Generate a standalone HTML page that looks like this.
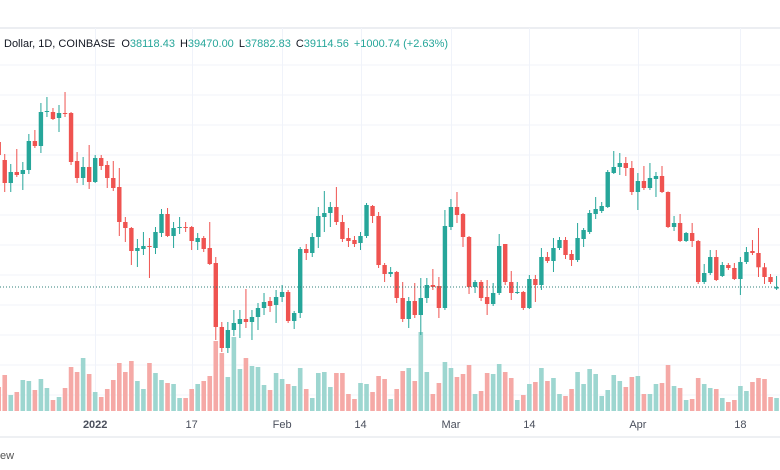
<!DOCTYPE html>
<html><head><meta charset="utf-8">
<style>
html,body{margin:0;padding:0;background:#fff;width:780px;height:470px;overflow:hidden}
svg{display:block;font-family:"Liberation Sans",sans-serif}
</style></head>
<body>
<svg id="chart" width="780" height="470" viewBox="0 0 780 470">
  <line x1="0" y1="28" x2="780" y2="28" stroke="#e6e8ee" stroke-width="1.5"/>
  <g id="grid"></g>
  <g id="volumes"></g>
  <g id="candles"></g>
  <line id="lastLine" x1="0" x2="780" stroke="#2f7f78" stroke-width="1" stroke-dasharray="1,2"/>
  <text x="4" y="47" font-size="11" fill="#131722">Dollar, 1D, COINBASE <tspan dx="3">O</tspan><tspan fill="#26a69a">38118.43</tspan><tspan dx="5">H</tspan><tspan fill="#26a69a">39470.00</tspan><tspan dx="5">L</tspan><tspan fill="#26a69a">37882.83</tspan><tspan dx="5">C</tspan><tspan fill="#26a69a">39114.56</tspan><tspan dx="5" fill="#26a69a">+1000.74 (+2.63%)</tspan></text>
  <g id="xaxis"></g>
  <rect x="0" y="436" width="780" height="2" fill="#eef0f3"/>
  <text x="0" y="459" font-size="11" fill="#555">ew</text>
</svg>
<script>
// Data (day index 0 = 2021-12-16)
const opens = [49260,48000,46390,47160,47020,47300,49330,48980,51360,51360,50940,51290,51290,47930,46740,47510,46460,48140,47650,46740,46110,43660,43240,41630,41770,41980,41840,42890,44220,42680,43240,43310,43310,42260,42540,41840,40790,36310,34840,36100,36520,36870,36660,37010,37640,38130,37850,38410,38760,36730,37290,41770,41490,42610,44010,44290,44710,43660,42540,42400,42190,42680,44780,44080,40650,40020,40160,38340,36870,38130,37150,38340,39250,39180,37640,43310,44710,44220,42610,39110,39460,38410,37920,38690,42120,39460,38690,38760,37640,39670,39250,41210,40930,41840,42400,41420,41000,42470,42960,44220,44430,44710,47090,47510,47790,47440,45760,46530,46040,46670,46880,45760,43310,43590,42330,42890,42330,39460,40090,41210,39880,40650,40440,39670,40860,41630,41490,40490,39810,39000];
const highs = [49400,48420,47720,48770,47860,49820,50100,51990,52410,51640,51850,52760,51360,48560,48210,49050,48350,48350,47930,47930,47440,44010,43310,42470,42960,42540,43310,44570,44640,43660,44010,43660,43380,42890,42680,43660,41210,36660,36660,37500,37500,38970,37500,37990,38690,38410,38900,39250,38900,37430,41910,42120,42890,44710,45830,45060,46110,44150,43240,42680,42960,44990,44850,44360,40790,40510,40230,39460,38410,39390,39740,39740,40370,39810,44500,45270,45760,44290,42680,39600,39600,39600,39390,42820,42120,40230,39460,38830,39950,39950,41840,41560,42540,42610,42610,41700,43590,43240,44500,45410,45060,47300,48630,48490,48210,47930,47090,47580,47790,47160,47580,45800,44080,44220,42960,43590,42400,40720,41700,41700,40860,40790,40790,41210,41910,42400,43240,40790,40020,39880];
const lows = [48000,45760,45760,46810,45900,47020,48840,48490,51010,50800,49960,51010,47650,46390,46250,45970,46390,47300,46040,45830,42680,42260,40650,40510,41350,39740,41420,42610,42610,41840,42820,42960,41700,41700,41560,40650,35400,34560,34490,35680,35540,36240,35400,36100,37150,37360,36590,38060,36590,36170,36940,41000,41210,41840,42960,43310,43450,42260,41910,41910,41700,42540,43590,40440,39460,39810,37990,36660,36240,36940,35750,37990,38900,36940,37500,43100,43590,41910,38620,38690,38130,37150,37780,38550,39250,38200,38620,37500,37570,38060,38900,40790,40160,41700,41070,40580,40860,41910,42820,43870,44290,44640,47020,46950,46880,45550,44500,45900,45900,45410,45690,43240,43030,42260,42260,41910,39320,39320,39950,39530,39810,40300,39600,38550,40720,41350,39810,39320,39320,38900];
const closes = [48350,46390,47160,46950,47300,49330,48980,51360,51430,50870,51290,51220,47860,46740,47510,46460,48140,47580,46740,46040,43660,43240,41630,41840,41980,41910,42960,44220,42680,43240,43310,43290,42330,42540,41770,40720,36310,34840,36100,36590,36870,36660,37010,37640,38060,37780,38410,38760,36730,37290,41770,41490,42610,44080,44290,44710,43660,42470,42330,42120,42680,44850,44080,40650,40020,40160,38340,36870,38130,37150,38340,39250,39110,37640,43380,44710,44150,42610,39110,39460,38340,37920,38690,41980,39460,38690,38760,37640,39670,39250,41210,40930,41840,42400,41350,41000,42540,43100,44290,44570,44780,47160,47510,47790,47440,45760,46530,46040,46740,46880,45760,43310,43590,42330,42890,42330,39460,40090,41210,39600,40650,40440,39670,40860,41560,41490,40490,39810,39460,39114];
const volumes = [24,36,16,19,31,30,21,32,23,11,14,23,44,39,53,37,19,14,22,31,48,39,50,30,22,48,38,31,28,27,13,13,22,27,30,35,70,58,34,74,42,53,45,44,26,21,38,32,27,25,43,22,13,38,39,24,38,38,17,12,28,27,19,35,32,12,22,40,43,30,79,39,17,28,49,43,34,37,46,17,20,38,37,47,39,33,11,16,27,29,43,30,33,17,15,22,39,27,42,37,15,21,36,30,24,34,35,17,17,27,28,46,25,23,11,12,33,27,23,22,13,9,11,25,20,29,33,32,14,13];
const tickLabels = ["2022","17","Feb","14","Mar","14","Apr","18"];
const tickDays = [16,32,47,60,75,88,106,123];

// Scales
const X0 = -1.3, DX = 6.03;
function xScale(i){ return X0 + DX * i; }
const P_TOP = 59200, P_BOT = 30500, Y_TOP = 0, Y_BOT = 410;
function yScale(p){ return Y_TOP + (P_TOP - p) / (P_TOP - P_BOT) * (Y_BOT - Y_TOP); }
const VOL_BASE = 411, VOL_PX = 1.0;
function vScale(v){ return v * VOL_PX; }

const NS = "http://www.w3.org/2000/svg";
function mk(tag, attrs, parent){
  const e = document.createElementNS(NS, tag);
  for (const k in attrs) e.setAttribute(k, attrs[k]);
  parent.appendChild(e);
  return e;
}

// grid
const grid = document.getElementById('grid');
for (let y = 65; y <= 410; y += 30) {
  const l = mk('line', {x1:0, x2:780, y1:y, y2:y, stroke:'#f0f3fa', 'stroke-width':1}, grid);
  
  
}
tickDays.forEach((d) => {
  const x = Math.round(xScale(d)) + 0.5;
  const l = mk('line', {x1:x, x2:x, y1:28, y2:411, stroke:'#f0f3fa', 'stroke-width':1}, grid);
  
  
});

// volumes
const vg = document.getElementById('volumes');
volumes.forEach((v, i) => {
  const up = closes[i] >= opens[i];
  const h = vScale(v);
  const r = mk('rect', {x: xScale(i) - 2.3, y: VOL_BASE - h, width: 4.6, height: h, fill: up ? '#9dd6d0' : '#f5a9a6'}, vg);
  
  
});

// candles
const cg = document.getElementById('candles');
opens.forEach((o, i) => {
  const c = closes[i], up = c >= o;
  const col = up ? '#26a69a' : '#ef5350';
  const x = xScale(i);
  const g = mk('g', {}, cg);
  
  
  mk('line', {x1:x, x2:x, y1:yScale(highs[i]), y2:yScale(lows[i]), stroke:col, 'stroke-width':1}, g);
  const yt = yScale(Math.max(o, c)), yb = yScale(Math.min(o, c));
  mk('rect', {x:x - 2.2, y:yt, width:4.4, height:Math.max(1, yb - yt), fill:col}, g);
});

// last price line
const ll = document.getElementById('lastLine');
const ly = yScale(closes[closes.length - 1]);
ll.setAttribute('y1', ly); ll.setAttribute('y2', ly);

// x-axis labels
const xa = document.getElementById('xaxis');
tickLabels.forEach((t, k) => {
  const tx = mk('text', {x: xScale(tickDays[k]), y: 428, 'font-size': 11, 'text-anchor': 'middle', fill: '#4a4f5c', 'font-weight': t === '2022' ? 'bold' : 'normal'}, xa);
  tx.textContent = t;
  
  
});
</script>
</body></html>
